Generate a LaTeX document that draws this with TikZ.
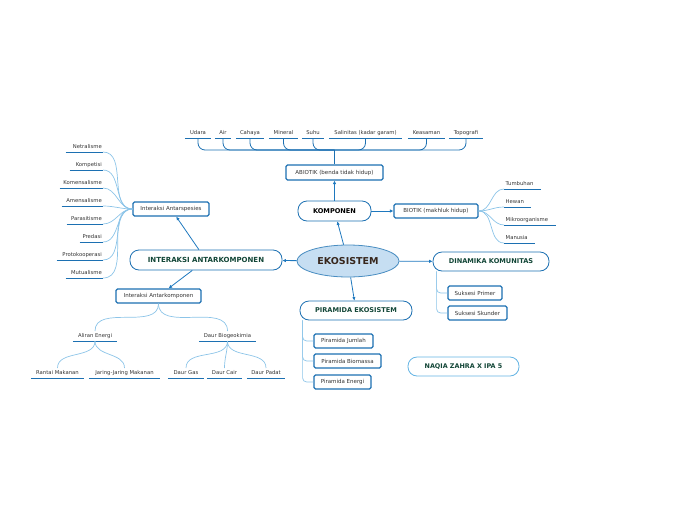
\documentclass[tikz,border=0pt]{standalone}
\usepackage{fontspec}
\setmainfont{DejaVu Sans}
\usetikzlibrary{arrows.meta,shapes.geometric,positioning}

\definecolor{treecol}{RGB}{140,196,232}
\definecolor{arrcol}{RGB}{30,120,190}
\definecolor{boxcol}{RGB}{28,112,178}
\definecolor{headtext}{RGB}{18,70,55}
\definecolor{ekofill}{RGB}{198,222,242}
\definecolor{ekotext}{RGB}{55,38,28}
\definecolor{naqiacol}{RGB}{100,180,228}

\begin{document}
\begin{tikzpicture}[x=1pt,y=-1pt,
  arr/.style={draw=arrcol,line width=0.8pt,-{Latex[length=3.5pt,width=3.5pt]}},
  tree/.style={draw=treecol,line width=0.7pt},
  uline/.style={draw=boxcol,line width=1pt},
  leaf/.style={font=\fontsize{5.3}{6}\selectfont,text=black!80,inner xsep=0pt,inner ysep=2.4pt,text height=3.8pt,text depth=1pt},
  subbox/.style={draw=boxcol,line width=1.3pt,rounded corners=1.5pt,fill=white,inner sep=0pt,font=\fontsize{5.5}{6}\selectfont,text=black!80},
  headbox/.style={draw=boxcol,line width=0.8pt,rounded corners=9pt,fill=white,inner sep=0pt,font=\bfseries\fontsize{6.6}{8}\selectfont,text=headtext}]
  \useasboundingbox (0,0) rectangle (696,520);

  % centre and main branches
  \node[ellipse,draw=boxcol!80,line width=0.8pt,fill=ekofill,minimum width=102pt,minimum height=32pt,inner sep=0pt,
        font=\bfseries\fontsize{9.5}{11}\selectfont,text=ekotext] (eko) at (348,261) {EKOSISTEM};
  \node[headbox,text=black,minimum width=73pt,minimum height=20pt] (komp) at (334.5,211) {KOMPONEN};
  \node[subbox,minimum width=97pt,minimum height=15pt] (abiotik) at (334.5,172.5) {ABIOTIK (benda tidak hidup)};
  \node[subbox,minimum width=84pt,minimum height=14pt] (biotik) at (436,211) {BIOTIK (makhluk hidup)};
  \node[headbox,minimum width=116pt,minimum height=19pt] (dinamika) at (491,261.5) {DINAMIKA KOMUNITAS};
  \node[subbox,minimum width=54pt,minimum height=14pt] (primer) at (475,293) {Suksesi Primer};
  \node[subbox,minimum width=59pt,minimum height=14pt] (skunder) at (477.5,313) {Suksesi Skunder};
  \node[headbox,minimum width=112pt,minimum height=19pt] (piramida) at (356,310.5) {PIRAMIDA EKOSISTEM};
  \node[subbox,minimum width=59pt,minimum height=14pt] (jumlah) at (343.5,341) {Piramida Jumlah};
  \node[subbox,minimum width=67pt,minimum height=14pt] (biomassa) at (347.5,361) {Piramida Biomassa};
  \node[subbox,minimum width=57pt,minimum height=14pt] (energi) at (342.5,382) {Piramida Energi};
  \node[headbox,draw=naqiacol,minimum width=111pt,minimum height=19pt,font=\bfseries\fontsize{6.4}{8}\selectfont] (naqia) at (463.5,366.5) {NAQIA ZAHRA X IPA 5};
  \node[headbox,minimum width=152pt,minimum height=20pt,font=\bfseries\fontsize{7}{8}\selectfont] (interaksi) at (206,260) {INTERAKSI ANTARKOMPONEN};
  \node[subbox,minimum width=76pt,minimum height=14pt] (spesies) at (171,209) {Interaksi Antarspesies};
  \node[subbox,minimum width=85pt,minimum height=14pt] (antarkomp) at (158.5,296) {Interaksi Antarkomponen};

  \draw[arr] (eko) -- (komp);
  \draw[arr] (komp) -- (abiotik);
  \draw[arr] (komp) -- (biotik);
  \draw[arr] (eko) -- (dinamika);
  \draw[arr] (eko) -- (piramida);
  \draw[arr] (eko) -- (interaksi);
  \draw[arr] (interaksi) -- (spesies);
  \draw[arr] (interaksi) -- (antarkomp);

  % abiotik leaves
  \coordinate (hub) at (334.5,150);
  \draw[draw=boxcol,line width=1.4pt] (abiotik.north) -- (hub);
  \foreach \n/\t/\x/\w in {udara/Udara/198/26, air/Air/223/16, cahaya/Cahaya/250/28, mineral/Mineral/283.5/29,
      suhu/Suhu/313/22, salin/{Salinitas (kadar garam)}/365.5/73, keasaman/Keasaman/426.5/37, topo/Topografi/466/34} {
    \node[leaf,minimum width=\w pt] (\n) at (\x,133.5) {\t};
    \draw[uline] (\n.south west) -- (\n.south east);
    \draw[draw=boxcol,line width=0.8pt,rounded corners=7pt] (\n.south) |- (hub);
  }

  % biotik leaves
  \foreach \n/\t/\y/\w in {tumbuhan/Tumbuhan/184/37, hewan/Hewan/202/27, mikro/Mikroorganisme/220/52, manusia/Manusia/238/31} {
    \node[leaf,text width=\w pt-3pt,inner xsep=1.5pt,align=left,anchor=south west] (\n) at (504,\y+5) {\t};
    \draw[uline] (\n.south west) -- (\n.south east);
    \draw[tree] (biotik.east) to[out=0,in=180] (\n.south west);
  }

  % antarspesies leaves
  \foreach \n/\t/\y/\w in {netral/Netralisme/147/37, kompetisi/Kompetisi/165/33, komensal/Komensalisme/183/43,
      amensal/Amensalisme/201/41, parasit/Parasitisme/219/36, predasi/Predasi/237/23,
      proto/Protokooperasi/255/46, mutual/Mutualisme/273/37} {
    \node[leaf,text width=\w pt-2pt,inner xsep=1pt,align=right,anchor=south east] (\n) at (103,\y+5) {\t};
    \draw[uline] (\n.south west) -- (\n.south east);
    \draw[tree] (\n.south east) to[out=0,in=180] (spesies.west);
  }

  % antarkomponen tree
  \node[leaf,minimum width=44pt] (aliran) at (95,336) {Aliran Energi};
  \node[leaf,minimum width=57pt] (daur) at (227.5,336) {Daur Biogeokimia};
  \draw[uline] (aliran.south west) -- (aliran.south east);
  \draw[uline] (daur.south west) -- (daur.south east);
  \draw[tree] (antarkomp.south) to[out=-90,in=90] (aliran.north);
  \draw[tree] (antarkomp.south) to[out=-90,in=90] (daur.north);
  \foreach \n/\t/\x/\w/\p in {rantai/Rantai Makanan/57.5/53/aliran, jaring/Jaring-Jaring Makanan/124.5/71/aliran,
      gas/Daur Gas/186/36/daur, cair/Daur Cair/224.5/35/daur, padat/Daur Padat/266/38/daur} {
    \node[leaf,minimum width=\w pt] (\n) at (\x,373) {\t};
    \draw[uline] (\n.south west) -- (\n.south east);
    \draw[tree] (\p.south) to[out=-90,in=90] (\n.north);
  }

  % dinamika and piramida branches
  \draw[tree,rounded corners=4pt] ([xshift=4pt]dinamika.south west) |- (primer.west);
  \draw[tree,rounded corners=4pt] ([xshift=4pt]dinamika.south west) |- (skunder.west);
  \draw[tree,rounded corners=4pt] ([xshift=3pt]piramida.south west) |- (jumlah.west);
  \draw[tree,rounded corners=4pt] ([xshift=3pt]piramida.south west) |- (biomassa.west);
  \draw[tree,rounded corners=4pt] ([xshift=3pt]piramida.south west) |- (energi.west);
\end{tikzpicture}
\end{document}
